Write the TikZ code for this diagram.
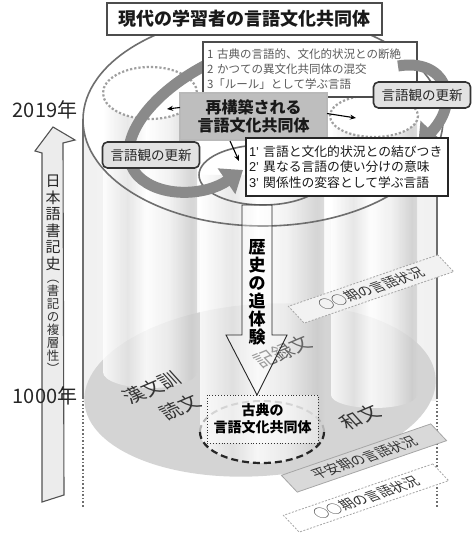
\documentclass[tikz,border=0pt]{standalone}
\usepackage{fontspec}
\setmainfont{Noto Sans CJK JP}
\newfontfamily\latinf{Liberation Sans}
\usetikzlibrary{arrows.meta,calc}
\definecolor{lineg}{HTML}{6E6E6E}
\definecolor{planec}{HTML}{D4D4D4}
\definecolor{arrg}{HTML}{8A8A8A}
\definecolor{boxg}{HTML}{BEBEBE}
\definecolor{txtg}{HTML}{5A5A5A}
\definecolor{viewg}{HTML}{E2E2E2}
\newcommand\fs[2]{\fontsize{#1}{#2}\selectfont}
\pgfdeclarehorizontalshading{pillshade}{100bp}{color(0bp)=(gray!60); color(12bp)=(gray!35); color(25bp)=(white); color(38bp)=(gray!22); color(48bp)=(white); color(60bp)=(gray!12); color(72bp)=(gray!40); color(84bp)=(gray!18); color(100bp)=(gray!50)}
\begin{document}
\begin{tikzpicture}[x=1pt,y=-1pt,
  every node/.style={inner sep=0pt, outer sep=0pt},
  pillar/.style={shading=pillshade, opacity=.8},
  topdot/.style={draw=gray!75, line width=2.2, dotted, fill=white},
  cylline/.style={draw=lineg, line width=1.6},
  viewbox/.style={draw=gray!40!black, line width=1.6, fill=viewg, rounded corners=5, minimum width=97, minimum height=26, font=\fs{13.5}{14}, text=black!85},
  tag/.style={draw=gray!70, line width=.8, minimum width=158, minimum height=21, font=\fs{13.5}{14}, text=black!80, rotate=19, xslant=-0.45},
  planetxt/.style={font=\fs{19}{20}, text=black!80, rotate=23, xslant=-0.35},
  bigarrow/.style={line width=11, draw=arrg, -{Triangle[length=20pt,width=30pt]}},
  smallarrow/.style={line width=1.1, -{Stealth[length=6pt,width=5pt]}},
]
\useasboundingbox (0,0) rectangle (472,534);
% outer cylinder faint body
\shade[left color=gray!25, right color=gray!25, middle color=white, opacity=.45] (83,120) rectangle (437,400);
\fill[white] (263,120) ellipse [x radius=180, y radius=106];
% Heian plane
\fill[planec, rotate around={4:(260,390)}] (260,390) ellipse [x radius=176, y radius=86];
% pillars
\shade[pillar] (103,93) -- (103,372) arc[start angle=180, end angle=0, x radius=47, y radius=16] -- (197,93) -- cycle;
\shade[pillar] (200,175) -- (200,432) arc[start angle=180, end angle=0, x radius=62, y radius=31] -- (324,175) -- cycle;
\shade[pillar] (331,115) -- (331,395) arc[start angle=180, end angle=0, x radius=43, y radius=13] -- (417,115) -- cycle;
% plane texts
\node[planetxt] (kanA) at (152,388) {漢文訓};
\node[planetxt] (kanB) at (180,407) {読文};
\node[planetxt, text=black!60] (kiroku) at (283,352) {記録文};
\node[planetxt] (wabun) at (360,417) {和文};
% classical community
\draw[gray!60, line width=2, dash pattern=on 7pt off 4pt] (200,432) arc[start angle=180, end angle=360, x radius=62, y radius=31];
\draw[black!85, line width=2.2, dash pattern=on 7pt off 4pt] (200,432) arc[start angle=180, end angle=0, x radius=62, y radius=31];
\node[draw=black!80, dotted, line width=.9, fill=white, fill opacity=.45, text opacity=1, minimum width=111, minimum height=48, align=center, font=\fs{14}{17}\bfseries] (koten) at (262.5,419) {古典の\\言語文化共同体};
% outer cylinder lines
\draw[cylline] (263,120) ellipse [x radius=180, y radius=106];
\draw[cylline] (83,120) -- (83,397);
\draw[cylline] (437,148) -- (437,397);
\draw[lineg, line width=1.6, dotted] (83,397) -- (83,508);
\draw[lineg, line width=1.6, dotted] (437,397) -- (437,507);
\draw[cylline] (263,175) ellipse [x radius=64, y radius=30];
% pillar tops
\draw[topdot] (150,93) ellipse [x radius=47, y radius=26];
\draw[topdot] (374,116) ellipse [x radius=44, y radius=21];
% history arrow
\draw[black!85, line width=.9, fill=white, fill opacity=.35] (242,205) -- (272,205) -- (272,335) -- (287,335) -- (257,395) -- (226,335) -- (242,335) -- cycle;
\node[font=\fs{17}{18}\bfseries, align=center] (tsui) at (257,292) {歴\\史\\の\\追\\体\\験};
% period tags
\node[tag, fill=gray!10, dash pattern=on 2pt off 1.5pt] (tagA) at (371,289) {○○期の言語状況};
\node[tag, fill=gray!30] (tagB) at (364,458) {平安期の言語状況};
\node[tag, fill=white, dash pattern=on 2pt off 1.5pt] (tagC) at (366,498) {○○期の言語状況};
% left gray arrow (under box)
\draw[bigarrow] (212,62) .. controls (150,92) and (110,145) .. (138,176) .. controls (160,198) and (205,196) .. (243,170);
% title and old box
\node[draw=black!70, line width=1.4, fill=white, minimum width=275, minimum height=32, font=\fs{18}{20}\bfseries, text=black!90] (title) at (244.5,19) {現代の学習者の言語文化共同体};
\node[draw=black!70, line width=1.1, fill=white, minimum height=55, text width=206, inner xsep=4, align=left, font=\fs{11.5}{15}, text=txtg] (old) at (310,69.5) {1~古典の言語的、文化的状況との断絶\\2~かつての異文化共同体の混交\\3「ルール」として学ぶ言語};
% right gray arrow
\draw[bigarrow] (398,66) .. controls (445,58) and (462,100) .. (418,146);
% boxes
\node[draw=gray!55, line width=1.2, fill=boxg, minimum width=147, minimum height=47, align=center, font=\fs{16}{18}\bfseries, text=black!90] (rb) at (253.5,116.5) {再構築される\\言語文化共同体};
\node[viewbox] (viewL) at (151,155) {言語観の更新};
\node[viewbox] (viewR) at (422,95) {言語観の更新};
\node[draw=black!85, line width=1.4, fill=white, minimum height=58, text width=196, inner xsep=3, align=left, font=\fs{12.8}{15.5}, text=black!90] (newv) at (347,167) {{\latinf 1’}~言語と文化的状況との結びつき\\{\latinf 2’}~異なる言語の使い分けの意味\\{\latinf 3’}~関係性の変容として学ぶ言語};
% small arrows
\coordinate (pl) at (167,109);
\coordinate (pr) at (356,118);
\coordinate (pd) at (239,161);
\draw[smallarrow] ($(rb.west)+(0,-9)$) -- (pl);
\draw[smallarrow] ($(rb.east)+(0,-3)$) -- (pr);
\draw[smallarrow] ($(rb.south west)+(50,1)$) -- (pd);
% left time arrow
\draw[draw=gray!65!black, line width=1.1, fill=gray!15] (42,502) -- (42,153) -- (35,151) -- (53,127) -- (75,140) -- (63,143) -- (64,495) -- cycle;
\node[font=\fs{15}{16.5}, align=center, text=black!85] (hist) at (53,223) {日\\本\\語\\書\\記\\史};
\node[font=\fs{12.5}{13}, align=center, text=black!80] (multi) at (53,327) {︵\\書\\記\\の\\複\\層\\性\\︶};
\node[font=\fs{20}{20}, text=black!85] (y2019) at (45,110) {2019年};
\node[font=\fs{20}{20}, text=black!85] (y1000) at (45,396) {1000年};
\end{tikzpicture}
\end{document}
